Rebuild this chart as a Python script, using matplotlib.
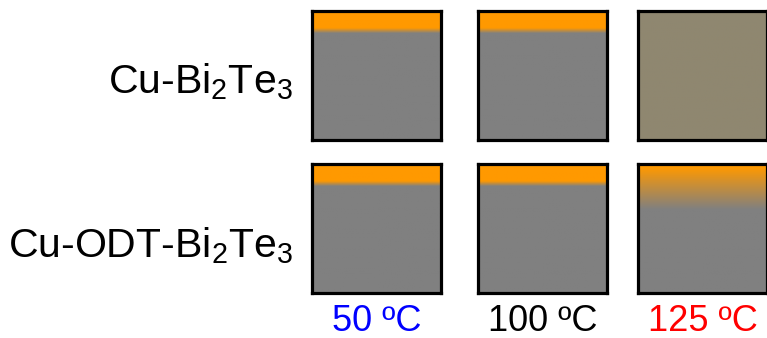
import numpy as np
import matplotlib
matplotlib.use("Agg")
import matplotlib.pyplot as plt
from matplotlib.colors import to_rgb

plt.rcParams['font.family'] = ['Liberation Sans', 'DejaVu Sans']
plt.rcParams['mathtext.fontset'] = 'custom'
plt.rcParams['mathtext.rm'] = 'Liberation Sans'
plt.rcParams['mathtext.it'] = 'Liberation Sans'

# sample names (rows) and annealing temperatures (columns)
samples = ['Cu-Bi$_2$Te$_3$', 'Cu-ODT-Bi$_2$Te$_3$']
temps = ['50 \u00baC', '100 \u00baC', '125 \u00baC']
temp_colors = ['#0000ff', '#000000', '#ff0000']

# copper layer seen at the top of each film: solid band fraction, fade fraction
cu_band = [[0.13, 0.13, 0.0], [0.13, 0.13, 0.02]]
cu_fade = [[0.04, 0.04, 0.0], [0.04, 0.04, 0.33]]
film_colors = [['#808080', '#808080', '#8f8770'],
               ['#808080', '#808080', '#808080']]
cu_color = '#ff9900'

W, H = 767, 338
fig = plt.figure(figsize=(W / 100, H / 100), dpi=100)

# box pixel layout
col_left = [312, 478, 638]
row_top = [11, 164]
box_w, box_h = 129, 129


def film_image(band, fade, base):
    n = 200
    t = np.linspace(0, 1, n)
    c_top = np.array(to_rgb(cu_color))
    c_base = np.array(to_rgb(base))
    w = np.clip((t - band) / fade, 0, 1) if fade > 0 else (t >= band).astype(float)
    img = c_top[None, :] * (1 - w[:, None]) + c_base[None, :] * w[:, None]
    return img[:, None, :]


for r in range(2):
    for c in range(3):
        ax = fig.add_axes([col_left[c] / W, 1 - (row_top[r] + box_h) / H,
                           box_w / W, box_h / H])
        ax.imshow(film_image(cu_band[r][c], cu_fade[r][c], film_colors[r][c]),
                  aspect='auto', extent=[0, 1, 0, 1], interpolation='bilinear')
        ax.set_xticks([])
        ax.set_yticks([])
        for s in ax.spines.values():
            s.set_linewidth(2.3)
            s.set_color('black')

label_base = [93, 257]
for r in range(2):
    fig.text(293 / W, 1 - label_base[r] / H, samples[r], ha='right',
             va='baseline', fontsize=29.5)

for c in range(3):
    fig.text((col_left[c] + box_w / 2) / W, 1 - 331 / H, temps[c],
             ha='center', va='baseline', fontsize=26, color=temp_colors[c])

fig.savefig('out.png', dpi=100)
